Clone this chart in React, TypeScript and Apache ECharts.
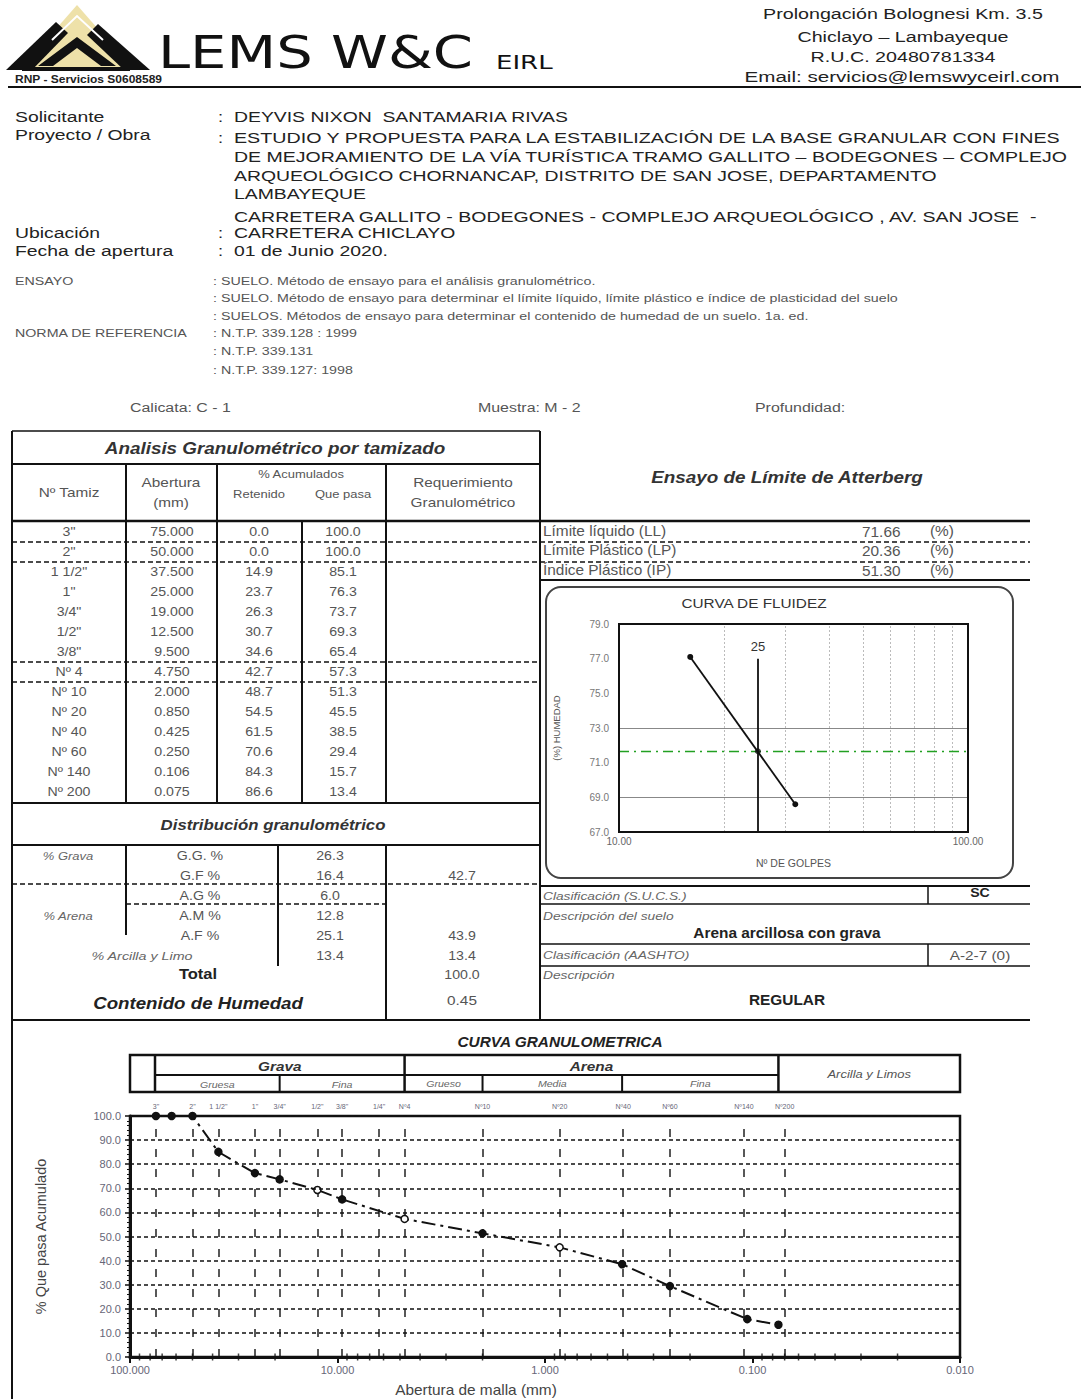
import React, { useEffect, useRef } from "react";
import * as echarts from "echarts";

const FONT = "'Liberation Sans', Arial, Helvetica, sans-serif";

// ---- Tabla de análisis granulométrico por tamizado
const sieveNames = ['3"', '2"', '1 1/2"', '1"', '3/4"', '1/2"', '3/8"', "Nº 4", "Nº 10", "Nº 20", "Nº 40", "Nº 60", "Nº 140", "Nº 200"];
const sieveOpenings = ["75.000", "50.000", "37.500", "25.000", "19.000", "12.500", "9.500", "4.750", "2.000", "0.850", "0.425", "0.250", "0.106", "0.075"];
const retainedPct = [0.0, 0.0, 14.9, 23.7, 26.3, 30.7, 34.6, 42.7, 48.7, 54.5, 61.5, 70.6, 84.3, 86.6];
const passingPct = [100.0, 100.0, 85.1, 76.3, 73.7, 69.3, 65.4, 57.3, 51.3, 45.5, 38.5, 29.4, 15.7, 13.4];

// ---- Distribución granulométrica
const distLabels = ["G.G. %", "G.F %", "A.G %", "A.M %", "A.F %"];
const distValues = [26.3, 16.4, 6.0, 12.8, 25.1];
const finesPct = 13.4;
const gravelTotal = 42.7;
const sandTotal = 43.9;
const grandTotal = 100.0;
const moistureContent = 0.45;

// ---- Curva granulométrica (puntos graficados)
const curveOpenings = [75, 63, 50, 37.5, 25, 19, 12.5, 9.5, 4.75, 2, 0.85, 0.425, 0.25, 0.106, 0.075];
const curvePassing = [100, 100, 100, 85.1, 76.3, 73.7, 69.3, 65.4, 57.3, 51.3, 45.5, 38.5, 29.4, 15.7, 13.4];
const curveOpen = [false, false, false, false, false, false, true, false, true, false, true, false, false, false, false];

// ---- Mallas (líneas verticales de la curva)
const meshLabels = ['3"', '2"', '1 1/2"', '1"', '3/4"', '1/2"', '3/8"', '1/4"', "Nº4", "Nº10", "Nº20", "Nº40", "Nº60", "Nº140", "Nº200"];
const meshOpenings = [75, 50, 37.5, 25, 19, 12.5, 9.5, 6.3, 4.75, 2, 0.85, 0.425, 0.25, 0.106, 0.075];

// ---- Límites de Atterberg / curva de fluidez
const blows = [16, 32];
const moistureFlow = [77.1, 68.6];
const LL = 71.66;
const LP = 20.36;
const IP = 51.3;
const flowGuideX = [20, 30, 40, 50, 60, 70, 80, 90];
const flowGuideY = [73, 69];

// Granulometric grid geometry
const GL = 130, GT = 1116, GW = 830, GH = 241;
const xOf = (d: number) => GL + (GW * (2 - Math.log10(d))) / 4;

function txt(x: number, y: number, text: string, o: any = {}) {
  return {
    type: "text",
    x,
    y,
    silent: true,
    z: 10,
    scaleX: o.sx || 1.18,
    rotation: o.rotation || 0,
    style: {
      text,
      fill: o.fill || "#222",
      fontSize: o.size || 13,
      fontFamily: o.family || FONT,
      fontWeight: o.weight || "normal",
      fontStyle: o.style || "normal",
      align: o.align || "left",
      verticalAlign: "middle",
    },
  };
}
function ln(x1: number, y1: number, x2: number, y2: number, w = 1.5, dash?: number[]) {
  return {
    type: "line",
    silent: true,
    z: 9,
    shape: { x1, y1, x2, y2 },
    style: { stroke: "#111", lineWidth: w, lineDash: dash || null },
  };
}

function buildGraphic() {
  const g: any[] = [];
  // ---- Logo
  g.push({ type: "polygon", silent: true, shape: { points: [[77, 5], [134, 70], [20, 70]] }, style: { fill: "#EEE1A9" } });
  g.push({ type: "polygon", silent: true, shape: { points: [[6, 70], [56, 22], [68, 33], [32, 70]] }, style: { fill: "#111" } });
  g.push({ type: "polygon", silent: true, shape: { points: [[98, 24], [150, 70], [124, 70], [87, 35]] }, style: { fill: "#111" } });
  g.push({ type: "polygon", silent: true, shape: { points: [[38, 66], [77, 37], [116, 66], [101, 66], [77, 48], [53, 66]] }, style: { fill: "#111" } });
  g.push({ type: "polyline", silent: true, shape: { points: [[52, 40], [77, 16], [103, 40]] }, style: { stroke: "#fff", lineWidth: 2, fill: null } });
  g.push({ type: "rect", silent: true, shape: { x: 22, y: 67, width: 108, height: 4 }, style: { fill: "#111" } });
  g.push(txt(158, 52, "LEMS W&C", { size: 45, family: "'DejaVu Sans', sans-serif", fill: "#111", sx: 1.28 }));
  g.push(txt(496, 62, "EIRL", { size: 20, family: "'DejaVu Sans', sans-serif", fill: "#111", sx: 1.3 }));
  g.push(txt(15, 79, "RNP - Servicios S0608589", { size: 10, weight: "bold", fill: "#222", sx: 1.2 }));
  g.push(txt(903, 14, "Prolongación Bolognesi Km. 3.5", { size: 15.5, align: "center", sx: 1.27 }));
  g.push(txt(903, 37, "Chiclayo – Lambayeque", { size: 15.5, align: "center", sx: 1.27 }));
  g.push(txt(903, 57, "R.U.C. 20480781334", { size: 15.5, align: "center", sx: 1.27 }));
  g.push(txt(902, 76, "Email: servicios@lemswyceirl.com", { size: 15.5, align: "center", sx: 1.33 }));
  g.push(ln(8, 87, 1081, 87, 2));

  // ---- Datos generales
  const S = 15.5, SX = 1.25;
  g.push(txt(15, 117, "Solicitante", { size: S, sx: SX }));
  g.push(txt(218, 117, ":", { size: S }));
  g.push(txt(234, 117, "DEYVIS NIXON  SANTAMARIA RIVAS", { size: S, sx: SX }));
  g.push(txt(15, 135, "Proyecto / Obra", { size: S, sx: SX }));
  g.push(txt(218, 138, ":", { size: S }));
  g.push(txt(234, 138, "ESTUDIO Y PROPUESTA PARA LA ESTABILIZACIÓN DE LA BASE GRANULAR CON FINES", { size: S, sx: 1.27 }));
  g.push(txt(234, 157, "DE MEJORAMIENTO DE LA VÍA TURÍSTICA TRAMO GALLITO – BODEGONES – COMPLEJO", { size: S, sx: 1.26 }));
  g.push(txt(234, 176, "ARQUEOLÓGICO CHORNANCAP, DISTRITO DE SAN JOSE, DEPARTAMENTO", { size: S, sx: SX }));
  g.push(txt(234, 194, "LAMBAYEQUE", { size: S, sx: SX }));
  g.push(txt(234, 217, "CARRETERA GALLITO - BODEGONES - COMPLEJO ARQUEOLÓGICO , AV. SAN JOSE  -", { size: S, sx: 1.26 }));
  g.push(txt(15, 233, "Ubicación", { size: S, sx: SX }));
  g.push(txt(218, 233, ":", { size: S }));
  g.push(txt(234, 233, "CARRETERA CHICLAYO", { size: S, sx: SX }));
  g.push(txt(15, 251, "Fecha de apertura", { size: S, sx: SX }));
  g.push(txt(218, 251, ":", { size: S }));
  g.push(txt(234, 251, "01 de Junio 2020.", { size: S, sx: SX }));

  const E = 11.5, EC = "#555", EX = 1.24;
  g.push(txt(15, 281, "ENSAYO", { size: E, fill: EC, sx: EX }));
  g.push(txt(213, 281, ": SUELO. Método de ensayo para el análisis granulométrico.", { size: E, fill: EC, sx: EX }));
  g.push(txt(213, 298, ": SUELO. Método de ensayo para determinar el límite líquido, límite plástico e índice de plasticidad del suelo", { size: E, fill: EC, sx: EX }));
  g.push(txt(213, 316, ": SUELOS. Métodos de ensayo para determinar el contenido de humedad de un suelo. 1a. ed.", { size: E, fill: EC, sx: EX }));
  g.push(txt(15, 333, "NORMA DE REFERENCIA", { size: E, fill: EC, sx: EX }));
  g.push(txt(213, 333, ": N.T.P. 339.128 : 1999", { size: E, fill: EC, sx: EX }));
  g.push(txt(213, 351, ": N.T.P. 339.131", { size: E, fill: EC, sx: EX }));
  g.push(txt(213, 370, ": N.T.P. 339.127: 1998", { size: E, fill: EC, sx: EX }));

  g.push(txt(130, 407, "Calicata: C - 1", { size: 13.5, fill: "#555" }));
  g.push(txt(478, 407, "Muestra: M - 2", { size: 13.5, fill: "#555" }));
  g.push(txt(755, 407, "Profundidad:", { size: 13.5, fill: "#555" }));

  // ---- Tabla izquierda
  const TC = "#555";
  g.push(txt(275, 448, "Analisis Granulométrico por tamizado", { size: 17, weight: "bold", style: "italic", align: "center", fill: "#333", sx: 1.11 }));
  g.push(txt(69, 492, "Nº Tamiz", { size: 13, align: "center", fill: TC }));
  g.push(txt(171, 482, "Abertura", { size: 13, align: "center", fill: TC }));
  g.push(txt(171, 502, "(mm)", { size: 13, align: "center", fill: TC }));
  g.push(txt(301, 474, "% Acumulados", { size: 11, align: "center", fill: TC }));
  g.push(txt(259, 494, "Retenido", { size: 11, align: "center", fill: TC }));
  g.push(txt(343, 494, "Que pasa", { size: 11, align: "center", fill: TC }));
  g.push(txt(463, 482, "Requerimiento", { size: 13, align: "center", fill: TC }));
  g.push(txt(463, 502, "Granulométrico", { size: 13, align: "center", fill: TC }));
  sieveNames.forEach((n, i) => {
    const y = 532 + i * 20;
    g.push(txt(69, y, n, { size: 12, align: "center", fill: TC }));
    g.push(txt(172, y, sieveOpenings[i], { size: 12, align: "center", fill: TC }));
    g.push(txt(259, y, retainedPct[i].toFixed(1), { size: 12, align: "center", fill: TC }));
    g.push(txt(343, y, passingPct[i].toFixed(1), { size: 12, align: "center", fill: TC }));
  });
  g.push(ln(12, 431, 540, 431, 1.5));
  g.push(ln(12, 431, 12, 1399, 2));
  g.push(ln(540, 431, 540, 1020, 2));
  g.push(ln(12, 464, 540, 464, 2));
  [126, 217, 386].forEach((x) => g.push(ln(x, 464, x, 803, 2)));
  g.push(ln(302, 521, 302, 803, 2));
  g.push(ln(12, 521, 1030, 521, 2.5));
  [542, 562].forEach((y) => g.push(ln(12, y, 1030, y, 1.5, [5, 3])));
  [662, 682].forEach((y) => g.push(ln(12, y, 540, y, 1.5, [5, 3])));
  g.push(ln(12, 803, 540, 803, 2));
  g.push(ln(12, 845, 540, 845, 2));

  // ---- Distribución
  g.push(txt(273, 825, "Distribución granulométrico", { size: 14, weight: "bold", style: "italic", align: "center", fill: "#333", sx: 1.2 }));
  const dY = [856, 876, 896, 916, 936];
  g.push(txt(68, 856, "% Grava", { size: 11, style: "italic", align: "center", fill: "#666" }));
  g.push(txt(68, 916, "% Arena", { size: 11, style: "italic", align: "center", fill: "#666" }));
  distLabels.forEach((l, i) => {
    g.push(txt(200, dY[i], l, { size: 12, align: "center", fill: TC }));
    g.push(txt(330, dY[i], distValues[i].toFixed(1), { size: 12, align: "center", fill: TC }));
  });
  g.push(txt(462, 876, gravelTotal.toFixed(1), { size: 12, align: "center", fill: TC }));
  g.push(txt(462, 936, sandTotal.toFixed(1), { size: 12, align: "center", fill: TC }));
  g.push(txt(142, 956, "% Arcilla y Limo", { size: 11, style: "italic", align: "center", fill: "#666", sx: 1.3 }));
  g.push(txt(330, 956, finesPct.toFixed(1), { size: 12, align: "center", fill: TC }));
  g.push(txt(462, 956, finesPct.toFixed(1), { size: 12, align: "center", fill: TC }));
  g.push(txt(198, 974, "Total", { size: 14, weight: "bold", align: "center", fill: "#222" }));
  g.push(txt(462, 975, grandTotal.toFixed(1), { size: 12, align: "center", fill: TC }));
  g.push(txt(198, 1003, "Contenido de Humedad", { size: 17, weight: "bold", style: "italic", align: "center", fill: "#222", sx: 1.1 }));
  g.push(txt(462, 1000, moistureContent.toFixed(2), { size: 13, align: "center", fill: TC }));
  g.push(ln(126, 845, 126, 935, 2));
  g.push(ln(278, 845, 278, 966, 2));
  g.push(ln(386, 845, 386, 1020, 2));
  g.push(ln(12, 884, 540, 884, 1.5, [5, 3]));
  g.push(ln(126, 904, 386, 904, 1.5, [5, 3]));
  g.push(ln(12, 1020, 1030, 1020, 2));

  // ---- Panel derecho
  g.push(txt(787, 477, "Ensayo de Límite de Atterberg", { size: 17, weight: "bold", style: "italic", align: "center", fill: "#333", sx: 1.11 }));
  const AC = "#555";
  g.push(txt(543, 531, "Límite líquido (LL)", { size: 14, fill: AC, sx: 1.1 }));
  g.push(txt(543, 550, "Límite Plástico (LP)", { size: 14, fill: AC, sx: 1.1 }));
  g.push(txt(543, 570, "Índice Plástico (IP)", { size: 14, fill: AC, sx: 1.1 }));
  g.push(txt(862, 532, LL.toFixed(2), { size: 14, fill: AC, sx: 1.1 }));
  g.push(txt(862, 551, LP.toFixed(2), { size: 14, fill: AC, sx: 1.1 }));
  g.push(txt(862, 571, IP.toFixed(2), { size: 14, fill: AC, sx: 1.1 }));
  [531, 550, 570].forEach((y) => g.push(txt(930, y, "(%)", { size: 14, fill: AC, sx: 1.1 })));
  g.push(ln(540, 580, 1030, 580, 2));
  g.push({ type: "rect", silent: true, z: 1, shape: { x: 546, y: 587, width: 467, height: 291, r: 15 }, style: { fill: null, stroke: "#444", lineWidth: 2 } });
  g.push(txt(754, 603, "CURVA DE FLUIDEZ", { size: 13, align: "center", fill: "#333" }));

  g.push(ln(540, 886, 1030, 886, 2));
  g.push(ln(540, 904, 1030, 904, 1.5));
  g.push(ln(928, 886, 928, 904, 1.5));
  g.push(txt(543, 896, "Clasificación (S.U.C.S.)", { size: 11, style: "italic", fill: "#666", sx: 1.25 }));
  g.push(txt(980, 893, "SC", { size: 12, weight: "bold", align: "center", fill: "#222" }));
  g.push(txt(543, 916, "Descripción del suelo", { size: 11, style: "italic", fill: "#666", sx: 1.25 }));
  g.push(txt(787, 933, "Arena arcillosa con grava", { size: 14, weight: "bold", align: "center", fill: "#222", sx: 1.1 }));
  g.push(ln(540, 944, 1030, 944, 1.5));
  g.push(ln(540, 966, 1030, 966, 1.5));
  g.push(ln(928, 944, 928, 966, 1.5));
  g.push(txt(543, 955, "Clasificación (AASHTO)", { size: 11, style: "italic", fill: "#666", sx: 1.25 }));
  g.push(txt(980, 955, "A-2-7 (0)", { size: 13, align: "center", fill: "#555" }));
  g.push(txt(543, 975, "Descripción", { size: 11, style: "italic", fill: "#666", sx: 1.25 }));
  g.push(txt(787, 1000, "REGULAR", { size: 14, weight: "bold", align: "center", fill: "#222", sx: 1.1 }));

  // ---- Curva granulométrica: cabecera
  g.push(txt(560, 1042, "CURVA GRANULOMETRICA", { size: 14, weight: "bold", style: "italic", align: "center", fill: "#222", sx: 1.1 }));
  const xG = xOf(4.75), xA = xOf(0.075), xGF = xOf(19), xAM = xOf(2), xAF = xOf(0.425);
  g.push({ type: "rect", silent: true, z: 9, shape: { x: 130, y: 1055, width: 830, height: 37 }, style: { fill: null, stroke: "#111", lineWidth: 2.5 } });
  g.push(ln(155, 1055, 155, 1092, 2.5));
  g.push(ln(xG, 1055, xG, 1092, 2.5));
  g.push(ln(xA, 1055, xA, 1092, 2.5));
  g.push(ln(155, 1075, xA, 1075, 2));
  g.push(ln(xGF, 1075, xGF, 1092, 2));
  g.push(ln(xAM, 1075, xAM, 1092, 2));
  g.push(ln(xAF, 1075, xAF, 1092, 2));
  g.push(txt((155 + xG) / 2, 1066, "Grava", { size: 13, weight: "bold", style: "italic", align: "center", fill: "#333" }));
  g.push(txt((xG + xA) / 2, 1066, "Arena", { size: 13, weight: "bold", style: "italic", align: "center", fill: "#333" }));
  g.push(txt((xA + 960) / 2, 1074, "Arcilla y Limos", { size: 11, style: "italic", align: "center", fill: "#555" }));
  g.push(txt((155 + xGF) / 2, 1085, "Gruesa", { size: 9, style: "italic", align: "center", fill: "#666" }));
  g.push(txt((xGF + xG) / 2, 1085, "Fina", { size: 9, style: "italic", align: "center", fill: "#666" }));
  g.push(txt((xG + xAM) / 2, 1084, "Grueso", { size: 9, style: "italic", align: "center", fill: "#666" }));
  g.push(txt((xAM + xAF) / 2, 1084, "Media", { size: 9, style: "italic", align: "center", fill: "#666" }));
  g.push(txt((xAF + xA) / 2, 1084, "Fina", { size: 9, style: "italic", align: "center", fill: "#666" }));
  g.push(txt(476, 1390, "Abertura de malla (mm)", { size: 14, align: "center", fill: "#444", sx: 1.1 }));
  return g;
}

// log-scale minor tick positions for the sieve axis
const minorTickValues: number[] = [];
[0.01, 0.1, 1, 10].forEach((dec) => {
  for (let k = 2; k <= 9; k++) minorTickValues.push(+(dec * k).toPrecision(3));
});

export default function App() {
  const ref = useRef<HTMLDivElement>(null);
  useEffect(() => {
    if (!ref.current) return;
    const chart = echarts.init(ref.current, null, { renderer: "svg" });
    const option: any = {
      animation: false,
      backgroundColor: "#fff",
      textStyle: { fontFamily: FONT },
      graphic: buildGraphic(),
      grid: [
        { left: 619, top: 624, width: 349, height: 208, show: true, borderColor: "#111", borderWidth: 2, z: 3 },
        { left: GL, top: GT, width: GW, height: GH, show: true, borderColor: "#111", borderWidth: 2.5, z: 3 },
      ],
      xAxis: [
        {
          gridIndex: 0, type: "log", logBase: 10, min: 10, max: 100, z: 12,
          axisLine: { show: false }, axisTick: { show: false }, splitLine: { show: false },
          axisLabel: { formatter: (v: number) => v.toFixed(2), fontSize: 10, color: "#666", margin: 4 },
          name: "Nº DE GOLPES", nameLocation: "middle", nameGap: 25,
          nameTextStyle: { fontSize: 10.5, color: "#555" },
        },
        {
          gridIndex: 1, type: "log", logBase: 10, min: 0.01, max: 100, inverse: true, z: 12,
          axisLine: { show: true, onZero: false, lineStyle: { color: "#111", width: 3 } },
          axisTick: { show: true, length: 6, lineStyle: { color: "#111", width: 2 } },
          splitLine: { show: false },
          axisLabel: { formatter: (v: number) => v.toFixed(3), fontSize: 11, color: "#667", margin: 7 },
        },
      ],
      yAxis: [
        {
          gridIndex: 0, type: "value", min: 67, max: 79, interval: 2, z: 12,
          axisLine: { show: false }, axisTick: { show: false }, splitLine: { show: false },
          axisLabel: { formatter: (v: number) => v.toFixed(1), fontSize: 10, color: "#777", margin: 10 },
          name: "(%) HUMEDAD", nameLocation: "middle", nameGap: 58, nameRotate: 90,
          nameTextStyle: { fontSize: 9.5, color: "#555" },
        },
        {
          gridIndex: 1, type: "value", min: 0, max: 100, interval: 10, z: 12,
          axisLine: { show: true, lineStyle: { color: "#111", width: 3 } },
          axisTick: { show: true, length: 5, lineStyle: { color: "#111", width: 1.5 } },
          minorTick: { show: true, splitNumber: 5, length: 3, lineStyle: { color: "#111", width: 1 } },
          splitLine: { show: true, lineStyle: { color: "#111", type: [4, 3], width: 1.5 } },
          axisLabel: { formatter: (v: number) => v.toFixed(1), fontSize: 11, color: "#667", margin: 9 },
          name: "% Que pasa Acumulado", nameLocation: "middle", nameGap: 82, nameRotate: 90,
          nameTextStyle: { fontSize: 14.5, color: "#444" },
        },
      ],
      series: [
        {
          type: "line", xAxisIndex: 0, yAxisIndex: 0, z: 5,
          data: blows.map((b, i) => [b, moistureFlow[i]]),
          symbol: "circle", symbolSize: 6,
          itemStyle: { color: "#111" },
          lineStyle: { color: "#111", width: 1.8 },
          markLine: {
            silent: true, symbol: ["none", "none"], z: 2,
            label: { show: false },
            data: [
              ...flowGuideY.map((v) => ({ yAxis: v, lineStyle: { color: "#888", type: "solid", width: 1 } })),
              ...flowGuideX.map((v) => ({ xAxis: v, lineStyle: { color: "#aaa", type: [2, 2], width: 0.8 } })),
              { yAxis: LL, lineStyle: { color: "#22a022", type: [10, 5, 2, 5], width: 1.3 } },
              [
                { coord: [25, 67], lineStyle: { color: "#111", type: "solid", width: 1.8 } },
                { coord: [25, 77], label: { show: true, position: "end", formatter: "25", fontSize: 13, color: "#333", distance: 6 } },
              ],
            ],
          },
        },
        {
          type: "scatter", xAxisIndex: 0, yAxisIndex: 0, z: 6,
          data: [[25, LL]], symbol: "circle", symbolSize: 6, itemStyle: { color: "#111" },
        },
        {
          type: "line", xAxisIndex: 1, yAxisIndex: 1, z: 5,
          data: curveOpenings.map((d, i) => ({
            value: [d, curvePassing[i]],
            itemStyle: { color: curveOpen[i] ? "#fff" : "#111", borderColor: "#111", borderWidth: 1.5 },
          })),
          symbol: "circle", symbolSize: 7,
          lineStyle: { color: "#111", width: 2, type: [14, 5, 3, 5] },
          markLine: {
            silent: true, symbol: ["none", "none"], z: 2,
            lineStyle: { color: "#222", type: [8, 12], width: 1.5 },
            label: { show: true, position: "end", formatter: "{b}", fontSize: 7, color: "#667", distance: 6 },
            data: meshOpenings.map((v, i) => ({ xAxis: v, name: meshLabels[i] })),
          },
        },
        {
          type: "scatter", xAxisIndex: 1, yAxisIndex: 1, z: 6, clip: false, silent: true,
          data: minorTickValues.map((v) => [v, 0]),
          symbol: "rect", symbolSize: [1.5, 7], itemStyle: { color: "#111" },
        },
      ],
    };
    chart.setOption(option);
    return () => chart.dispose();
  }, []);
  return <div ref={ref} style={{ position: "absolute", left: 0, top: 0, width: 1081, height: 1399, background: "#fff" }} />;
}
